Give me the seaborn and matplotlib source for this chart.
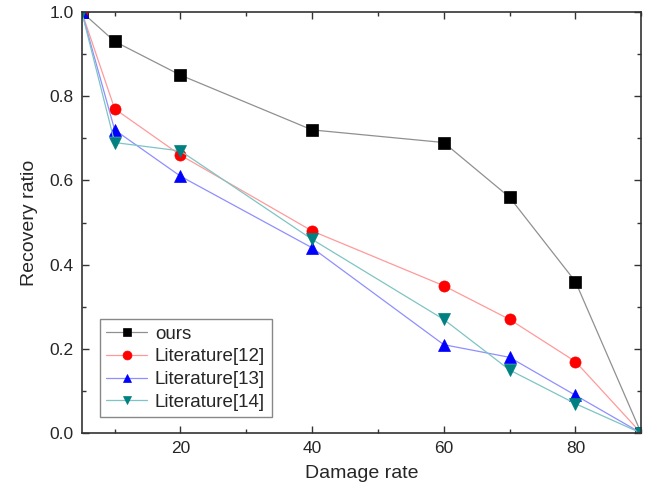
import matplotlib
matplotlib.use("Agg")
import matplotlib.pyplot as plt
import seaborn as sns
import pandas as pd
from matplotlib.ticker import MultipleLocator

damage = [5, 10, 20, 40, 60, 70, 80, 90]
ours = [1.0, 0.93, 0.85, 0.72, 0.69, 0.56, 0.36, 0.0]
lit12 = [1.0, 0.77, 0.66, 0.48, 0.35, 0.27, 0.17, 0.0]
lit13 = [1.0, 0.72, 0.61, 0.44, 0.21, 0.18, 0.09, 0.0]
lit14 = [1.0, 0.69, 0.67, 0.46, 0.27, 0.15, 0.07, 0.0]
names = ["ours", "Literature[12]", "Literature[13]", "Literature[14]"]

rows = []
for n, ys in zip(names, [ours, lit12, lit13, lit14]):
    for x, y in zip(damage, ys):
        rows.append({"Damage rate": x, "Recovery ratio": y, "method": n})
df = pd.DataFrame(rows)

sns.set_style("ticks")
plt.rcParams['font.family'] = ['Liberation Sans', 'DejaVu Sans']

marker_colors = ["#000000", "#ff0000", "#0000ff", "#008080"]
line_colors = ["#909090", "#ff9a9a", "#8f8fff", "#7fc4c4"]
markers = ["s", "o", "^", "v"]

fig = plt.figure(figsize=(6.49, 4.99), dpi=100)
ax = fig.add_axes([0.126, 0.132, 0.862, 0.844])
sns.lineplot(data=df, x="Damage rate", y="Recovery ratio", hue="method",
             hue_order=names, palette=dict(zip(names, line_colors)),
             style="method", markers=dict(zip(names, markers)), dashes=False,
             legend=False, ax=ax, linewidth=0.9, markersize=8)
for line, mc, lc in zip(ax.lines, marker_colors, line_colors):
    line.set_color(lc)
    line.set_markerfacecolor(mc)
    line.set_markeredgecolor(mc)
    line.set_markeredgewidth(0.5)

ax.set_xlim(5, 90)
ax.set_ylim(0, 1.0)
ax.xaxis.set_major_locator(MultipleLocator(20))
ax.xaxis.set_minor_locator(MultipleLocator(10))
ax.yaxis.set_major_locator(MultipleLocator(0.2))
ax.yaxis.set_minor_locator(MultipleLocator(0.1))
ax.yaxis.set_major_formatter(matplotlib.ticker.FormatStrFormatter('%.1f'))
ax.tick_params(which='both', direction='in', top=True, right=True, labelsize=12.5, color='#333333')
ax.tick_params(which='major', length=5, width=1, pad=6)
ax.tick_params(which='minor', length=3, width=1)
for s in ax.spines.values():
    s.set_linewidth(1.2)
    s.set_color('#333333')
ax.set_xlabel("Damage rate", fontsize=14, labelpad=6)
ax.set_ylabel("Recovery ratio", fontsize=14, labelpad=8)

leg = ax.legend(ax.lines, names, loc='lower left', bbox_to_anchor=(0.015, 0.015),
                fontsize=13.5, fancybox=False, edgecolor='#888888', framealpha=1,
                handlelength=2.2, borderpad=0.35, labelspacing=0.3, handletextpad=0.4,
                markerscale=0.8)
leg.get_frame().set_linewidth(1.0)

fig.savefig("out.png", dpi=100)
